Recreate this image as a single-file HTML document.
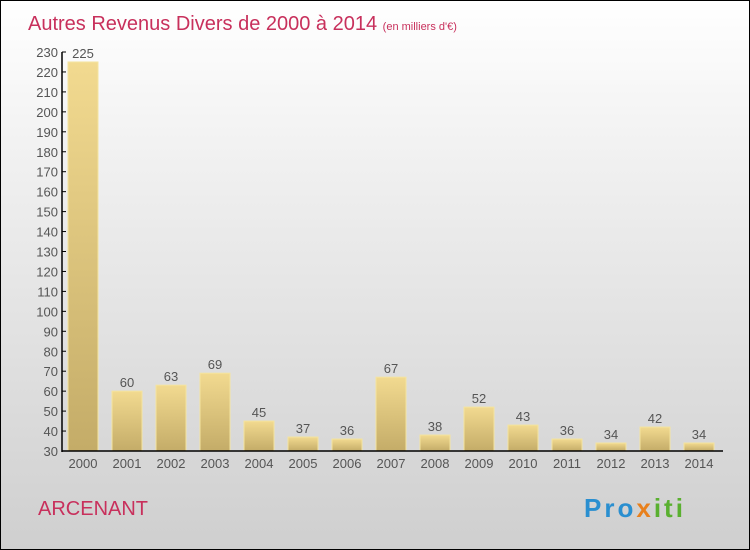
<!DOCTYPE html>
<html><head><meta charset="utf-8"><style>
body{margin:0}
#c{width:750px;height:550px;position:relative;box-sizing:border-box;border:1px solid #000;background:linear-gradient(#ffffff,#f0f0f0 30%,#cfcfcf);font-family:"Liberation Sans",sans-serif;overflow:hidden}
</style></head><body>
<div id="c">
<svg width="750" height="550" style="position:absolute;left:0;top:0">
<defs><linearGradient id="bg" x1="0" y1="0" x2="0" y2="1"><stop offset="0" stop-color="#f2da90"/><stop offset="1" stop-color="#c4ac68"/></linearGradient></defs>
<text x="27" y="29" font-size="20" fill="#c8305c">Autres Revenus Divers de 2000 à 2014 <tspan font-size="11">(en milliers d'€)</tspan></text>
<g id="plot"></g>
<text x="37" y="514" font-size="20" fill="#c8305c">ARCENANT</text>
<text x="583" y="516" font-size="26" font-weight="bold" letter-spacing="3"><tspan fill="#2a8fd0">Pro</tspan><tspan fill="#e8801c">x</tspan><tspan fill="#5ab030">iti</tspan></text>
</svg>
</div>
<script>
const years=["2000","2001","2002","2003","2004","2005","2006","2007","2008","2009","2010","2011","2012","2013","2014"];
const values=[225,60,63,69,45,37,36,67,38,52,43,36,34,42,34];
const yTicks=[30,40,50,60,70,80,90,100,110,120,130,140,150,160,170,180,190,200,210,220,230];
const NS="http://www.w3.org/2000/svg";
const g=document.getElementById('plot');
const y=v=>450-(v-30)*(399/200);
const x=i=>67+44*i;
function mk(t,a,txt){const e=document.createElementNS(NS,t);for(const k in a)e.setAttribute(k,a[k]);if(txt!=null)e.textContent=txt;g.appendChild(e);return e;}
yTicks.forEach(v=>{
 const t=mk('text',{x:57,y:y(v)+5,'font-size':13,'text-anchor':'end',fill:'#555'},v);
 
 
 const l=mk('line',{x1:61,x2:65,y1:y(v),y2:y(v),stroke:'#000'});
 
 
});
values.forEach((v,i)=>{
 const r=mk('rect',{x:x(i),y:y(v),width:30,height:450-y(v),fill:'url(#bg)',stroke:'#f4e4a0','stroke-width':1});
 
 
 const vt=mk('text',{x:x(i)+15,y:y(v)-4,'font-size':13,'text-anchor':'middle',fill:'#555'},v);
 
 
 const xt=mk('text',{x:x(i)+15,y:467,'font-size':13,'text-anchor':'middle',fill:'#555'},years[i]);
 
 
});
const ya=mk('line',{x1:61,x2:61,y1:y(230),y2:451,stroke:'#000','stroke-width':1.5});


const xa=mk('line',{x1:61,x2:722,y1:450,y2:450,stroke:'#000','stroke-width':1.5});


</script>
</body></html>
